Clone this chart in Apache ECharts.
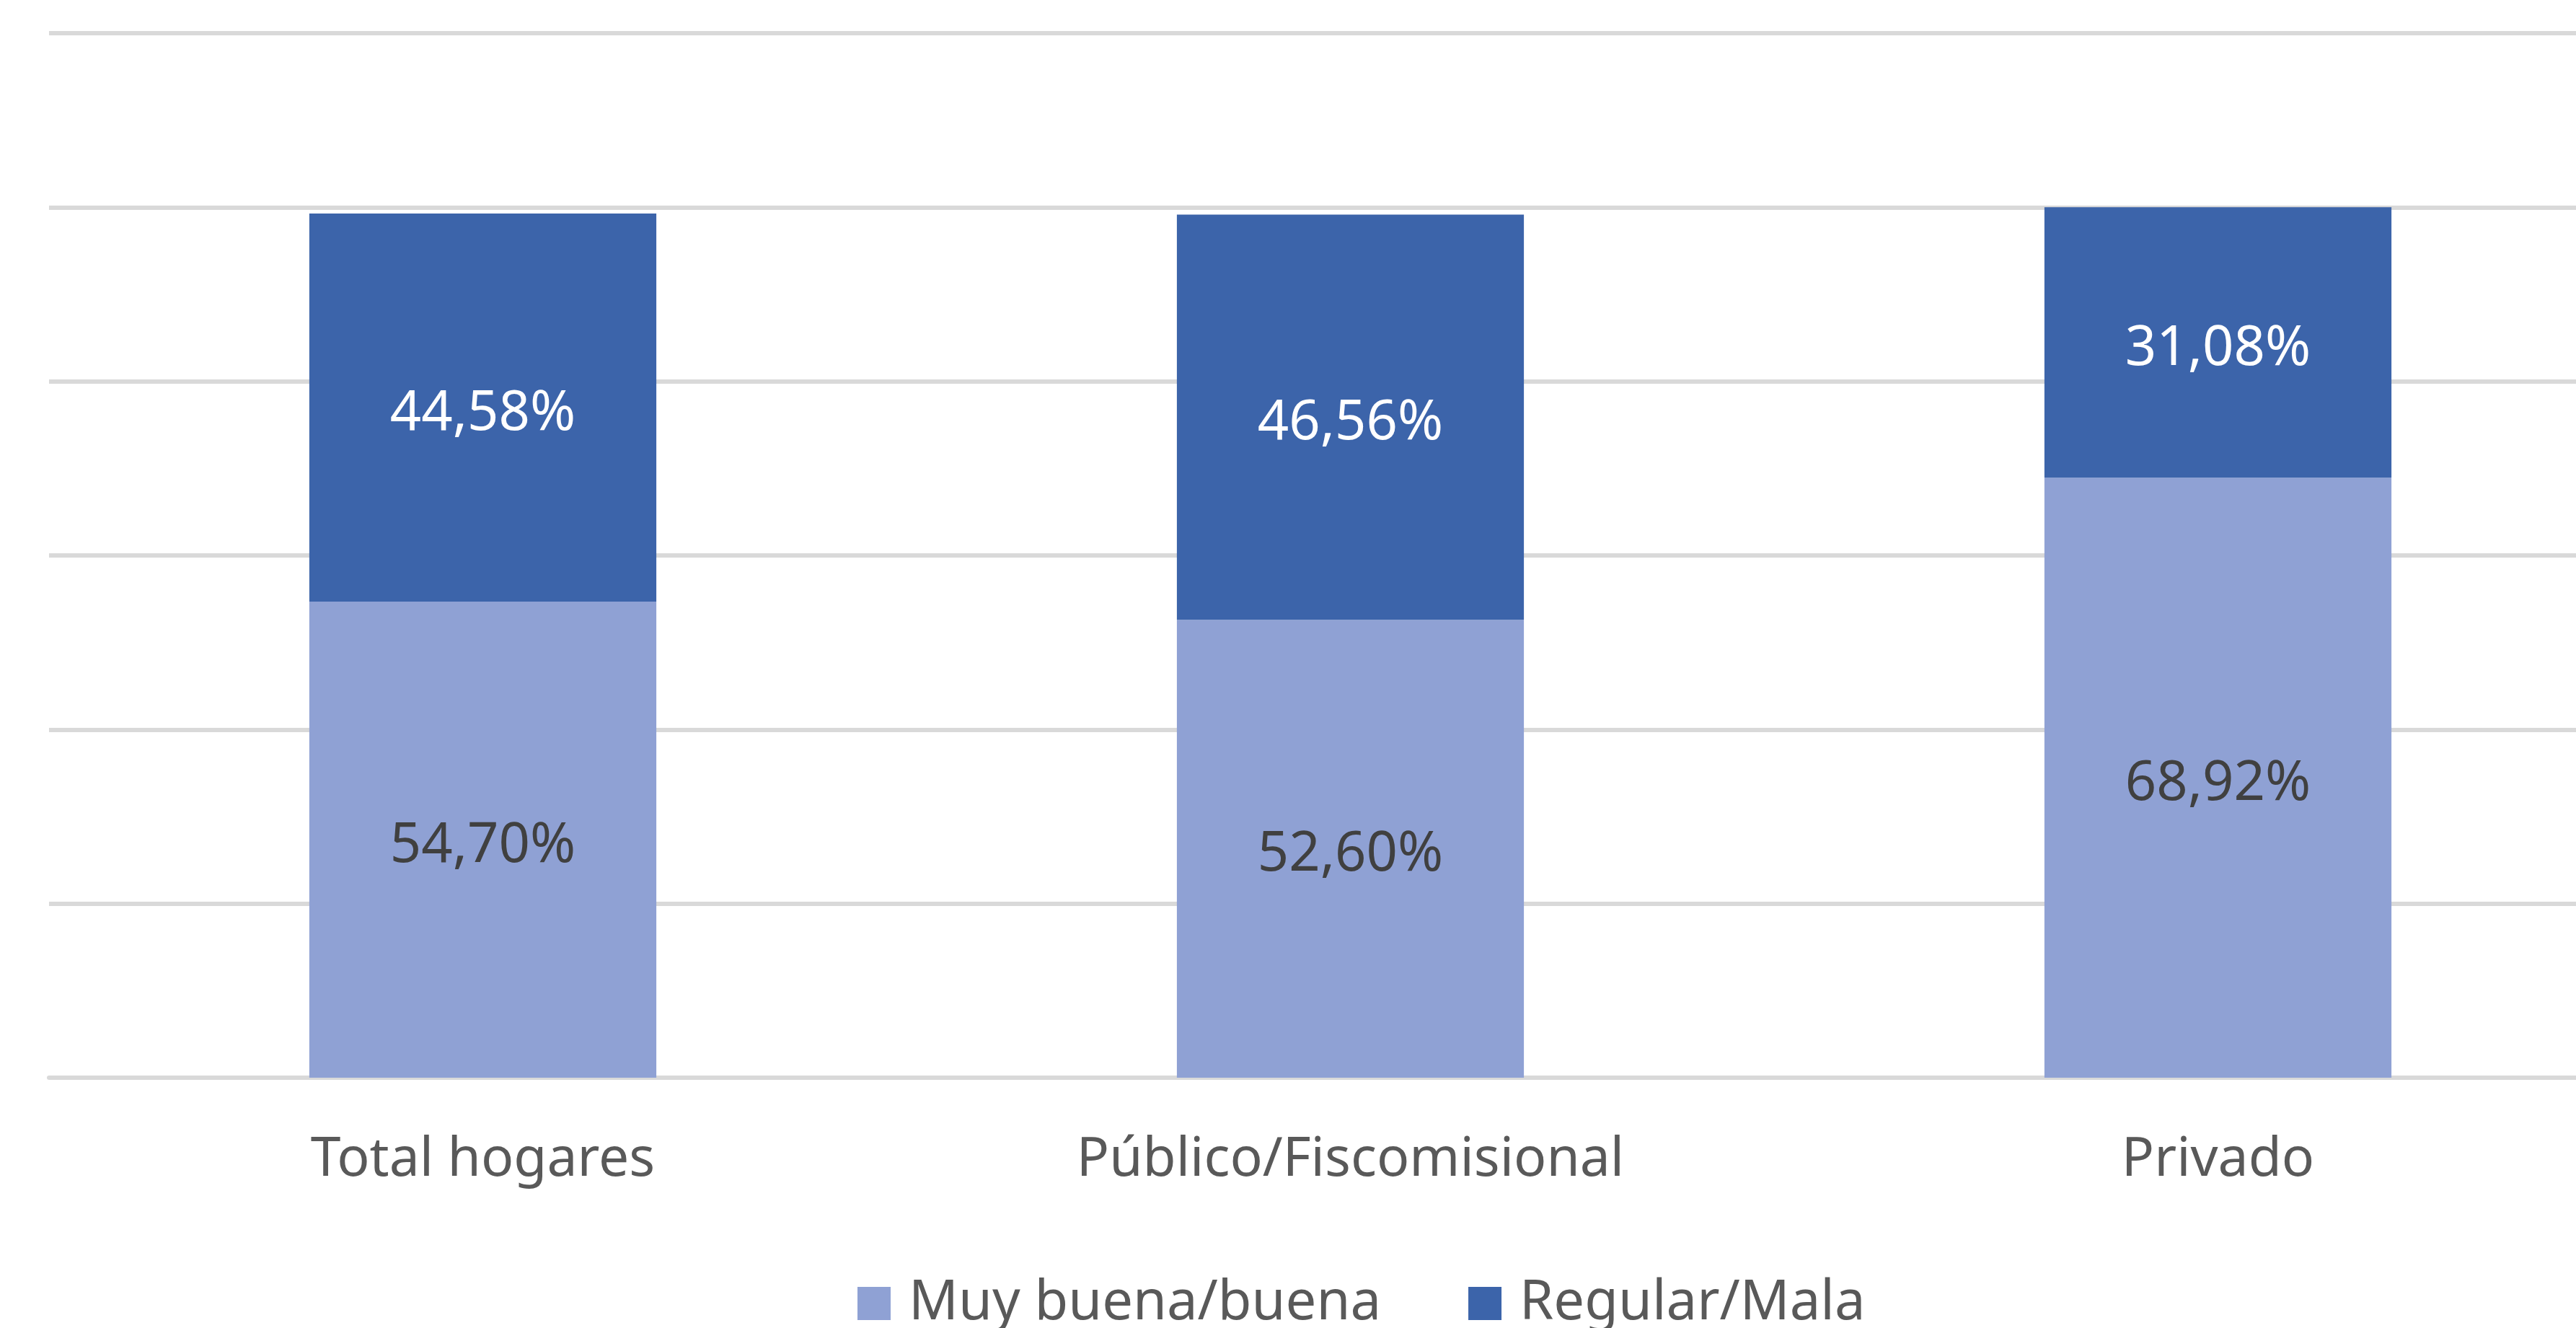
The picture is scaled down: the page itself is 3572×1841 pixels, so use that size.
<!DOCTYPE html>
<html>
<head>
<meta charset="utf-8">
<script src="https://cdn.jsdelivr.net/npm/echarts@6/dist/echarts.min.js"></script>
<style>
html,body{margin:0;padding:0;background:#fff;overflow:hidden;}
#chart{width:3677px;height:1841px;}
</style>
</head>
<body>
<div id="chart"></div>
<script>
const categories = ['Total hogares', 'Público/Fiscomisional', 'Privado'];
const seriesNames = ['Muy buena/buena', 'Regular/Mala'];
const muyBuena = [54.70, 52.60, 68.92];
const regularMala = [44.58, 46.56, 31.08];

const FONT = '"Noto Sans", "Open Sans", sans-serif';
const fmt = p => p.value.toFixed(2).replace('.', ',') + '%';

const chart = echarts.init(document.getElementById('chart'));
chart.setOption({
  animation: false,
  backgroundColor: '#ffffff',
  grid: { left: 68, top: 46, right: 0, bottom: 347, containLabel: false },
  legend: {
    data: seriesNames,
    left: 1184,
    top: 1764,
    itemWidth: 46,
    itemHeight: 46,
    itemGap: 121,
    icon: 'rect',
    textStyle: { fontFamily: FONT, fontSize: 76, color: '#595959', padding: [0, 0, 0, 20] }
  },
  xAxis: {
    type: 'category',
    data: categories,
    axisTick: { show: false },
    axisLine: { show: true, lineStyle: { color: '#D9D9D9', width: 6 } },
    axisLabel: { fontFamily: FONT, fontSize: 75, color: '#595959', margin: 77 }
  },
  yAxis: {
    type: 'value',
    min: 0, max: 120, interval: 20,
    axisLabel: { show: false },
    axisLine: { show: false },
    axisTick: { show: false },
    splitLine: { show: true, lineStyle: { color: '#D9D9D9', width: 6 } }
  },
  series: [
    {
      name: seriesNames[0], type: 'bar', stack: 'total', barWidth: '40%',
      data: muyBuena,
      itemStyle: { color: '#8FA1D4' },
      label: { show: true, position: 'inside', offset: [0, 9], formatter: fmt, fontFamily: FONT, fontSize: 76, color: '#404040' }
    },
    {
      name: seriesNames[1], type: 'bar', stack: 'total', barWidth: '40%',
      data: regularMala,
      itemStyle: { color: '#3C64AA' },
      label: { show: true, position: 'inside', offset: [0, 9], formatter: fmt, fontFamily: FONT, fontSize: 76, color: '#ffffff' }
    }
  ]
});
</script>
</body>
</html>
